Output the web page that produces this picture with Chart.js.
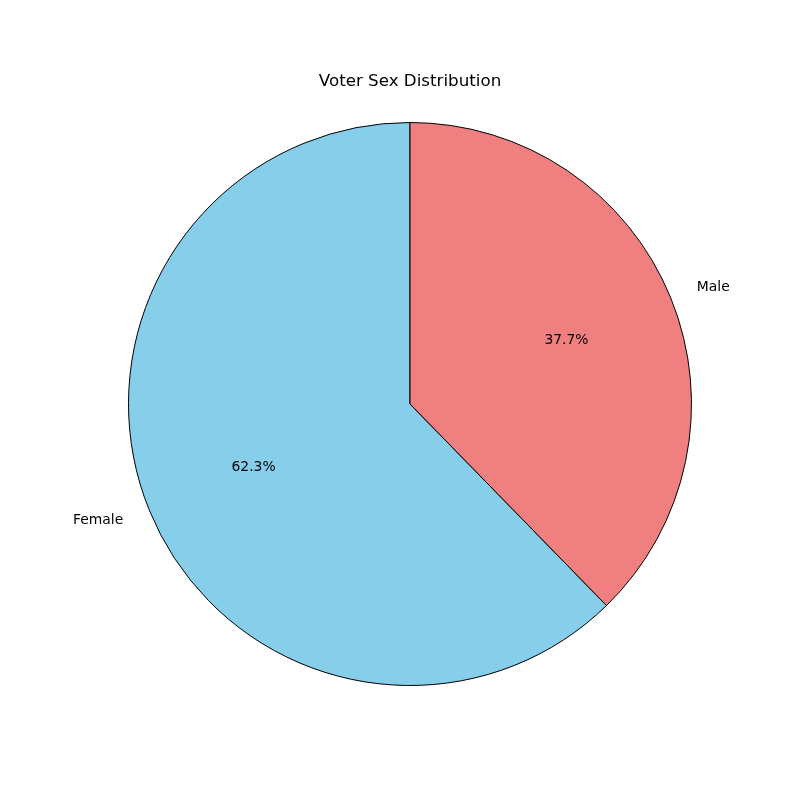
<!DOCTYPE html>
<html>
<head>
<meta charset="utf-8">
<script src="https://cdn.jsdelivr.net/npm/chart.js@4.4.0/dist/chart.umd.min.js"></script>
<style>
  html, body { margin: 0; padding: 0; background: #ffffff; }
  #wrap { width: 800px; height: 800px; }
</style>
</head>
<body>
<div id="wrap"><canvas id="c" width="800" height="800"></canvas></div>
<script>
const categories = ["Female", "Male"];
const values = [62.3, 37.7];
const colors = ["#87CEEB", "#F08080"];
const chartTitle = "Voter Sex Distribution";

const total = values.reduce((a, b) => a + b, 0);
// Female drawn counter-clockwise from the top: start it where Male ends
const rotationDeg = values[1] / total * 360;

const labelPlugin = {
  id: 'pieLabels',
  afterDatasetsDraw(chart) {
    const ctx = chart.ctx;
    const meta = chart.getDatasetMeta(0);
    ctx.save();
    ctx.fillStyle = '#000000';
    ctx.font = '13.9px "DejaVu Sans"';
    meta.data.forEach((arc, i) => {
      const mid = (arc.startAngle + arc.endAngle) / 2;
      const r = arc.outerRadius;
      const cx = arc.x, cy = arc.y;
      const pct = (values[i] / total * 100).toFixed(1) + '%';
      ctx.textAlign = 'center';
      ctx.textBaseline = 'middle';
      ctx.fillText(pct, cx + Math.cos(mid) * r * 0.6, cy + Math.sin(mid) * r * 0.6);
      const lx = cx + Math.cos(mid) * r * 1.1;
      const ly = cy + Math.sin(mid) * r * 1.1;
      ctx.textAlign = Math.cos(mid) >= 0 ? 'left' : 'right';
      ctx.fillText(categories[i], lx, ly);
    });
    ctx.font = '16.7px "DejaVu Sans"';
    ctx.textAlign = 'center';
    ctx.textBaseline = 'middle';
    ctx.fillText(chartTitle, 410, 82);
    ctx.restore();
  }
};

new Chart(document.getElementById('c'), {
  type: 'pie',
  data: {
    labels: categories,
    datasets: [{
      data: values,
      backgroundColor: colors,
      borderColor: '#000000',
      borderWidth: 1,
      borderAlign: 'center'
    }]
  },
  options: {
    responsive: false,
    animation: false,
    devicePixelRatio: 1,
    rotation: rotationDeg,
    layout: { padding: { left: 128, right: 108, top: 122, bottom: 114 } },
    plugins: {
      legend: { display: false },
      title: { display: false },
      tooltip: { enabled: false }
    }
  },
  plugins: [labelPlugin]
});
</script>
</body>
</html>
